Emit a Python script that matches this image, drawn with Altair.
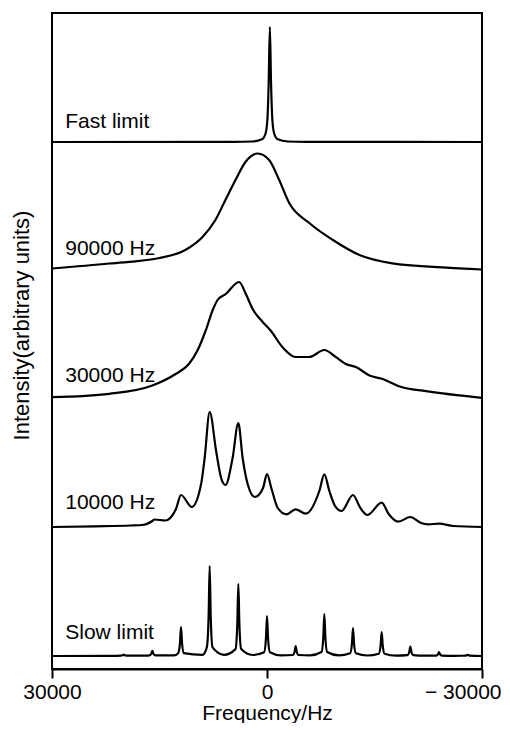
import altair as alt
import pandas as pd

# ---- data (frequency in Hz, intensity in arbitrary units) ----
TRACES = ["Fast limit", "90000 Hz", "30000 Hz", "10000 Hz", "Slow limit"]
OFFSETS = [527, 399, 271, 142, 13]          # baseline of each stacked spectrum
LABEL_Y = [541, 414, 287, 160, 30]
LABEL_X = [28150, 28150, 28150, 28150, 28150]

FAST_FREQ = [30000, 4600, 2100, 700, 200, -50, -230, -400, -570, -750, -1000, -1500, -2900, -5400, -30000]
FAST_INT = [0, 0.13, 0.5, 2.7, 8.5, 22, 57.5, 115, 57.5, 22, 8.5, 2.7, 0.5, 0.13, 0]

F90_FREQ = [30000, 22000, 15000, 11400, 9000, 7200, 5800, 4400, 3000, 1300, -300, -1700,
            -3100, -5900, -9200, -12900, -17500, -24500, -30000]
F90_INT = [1.5, 6.5, 12, 20, 33, 50, 70, 90, 108, 116.5, 110, 90,
           67, 47, 30, 15, 6.7, 2.7, 0.5]

F30_FREQ = [30000, 22000, 16000, 12750, 10900, 9700, 8550, 7600, 6900, 5750, 3900, 2950,
            2000, 600, -500, -2150, -4000, -5900, -8000, -9600, -11000, -12400, -14300,
            -16150, -18500, -22200, -30000]
F30_INT = [0.8, 4.2, 12.5, 24, 34, 47.5, 67.5, 87.5, 98, 104, 116, 104,
           89, 76, 67.5, 51, 41, 41, 48, 41, 34, 31, 22.5,
           19, 11.5, 6.8, 0.2]

F10_FREQ = [30000, 24000, 19000, 17400, 16000, 15700, 14200, 12700, 12000, 10500, 9200, 8700,
            8000, 7100, 6400, 5800, 4800, 4000, 3400, 2700, 1700, 550, 0, -600, -1500,
            -2700, -4000, -5400, -7300, -8000, -8700, -9500, -10400, -12000, -13000, -14000,
            -16000, -17000, -18300, -20000, -21500, -22500, -24000, -26000, -30000]
F10_INT = [0, 0.7, 1.5, 2, 6, 7.5, 6.5, 18, 32, 20, 42.7, 69,
           115, 76, 49, 42, 69, 104, 69, 43, 30, 39, 53, 39, 19,
           12.7, 17.7, 13.3, 36, 52.7, 36, 21, 16, 32, 19.3, 12,
           24.3, 12.7, 5.3, 10, 4, 2.7, 3.3, 1, 0]

SLOW_FREQ = [30000, 21000, 20400, 20150, 20000, 19850, 19600,
             17000, 16400, 16150, 16000, 15850, 15600,
             13000, 12400, 12150, 12000, 11850, 11600,
             9000, 8400, 8150, 8000, 7850, 7600,
             6000, 4400, 4150, 4000, 3850, 3600,
             2000, 400, 150, 0, -150, -400,
             -2000, -3600, -3850, -4000, -4150, -4400,
             -6000, -7600, -7850, -8000, -8150, -8400,
             -10000, -11600, -11850, -12000, -12150, -12400,
             -14000, -15600, -15850, -16000, -16150, -16400,
             -18000, -19600, -19850, -20000, -20150, -20400,
             -22000, -23600, -23850, -24000, -24150, -24400,
             -26000, -27700, -28000, -28300, -30000]
SLOW_INT = [0, 0.2, 0.3, 0.7, 1.5, 0.7, 0.3,
            0.3, 0.6, 2.2, 5.2, 2.2, 0.6,
            0.6, 2.8, 12.4, 29, 12.4, 2.8,
            1.2, 8.6, 38.6, 90, 38.6, 8.6,
            1.2, 6.9, 30.9, 72, 30.9, 6.9,
            1.0, 3.8, 17.2, 40, 17.2, 3.8,
            0.6, 1.0, 4.3, 10, 4.3, 1.0,
            0.6, 4.0, 18, 42, 18, 4.0,
            0.6, 2.7, 12, 28, 12, 2.7,
            0.5, 2.3, 10.3, 24, 10.3, 2.3,
            0.4, 0.9, 4.0, 9.4, 4.0, 0.9,
            0.3, 0.4, 1.7, 3.9, 1.7, 0.4,
            0.2, 0.3, 1.2, 0.3, 0]

X_TICKS = [30000, 0, -30000]

# ---- build table ----
series = [(FAST_FREQ, FAST_INT), (F90_FREQ, F90_INT), (F30_FREQ, F30_INT),
          (F10_FREQ, F10_INT), (SLOW_FREQ, SLOW_INT)]
rows = []
for name, off, (fr, it) in zip(TRACES, OFFSETS, series):
    for f, v in zip(fr, it):
        rows.append({"trace": name, "freq": f, "y": off + v})
df = pd.DataFrame(rows)
labels = pd.DataFrame({"trace": TRACES, "freq": LABEL_X, "y": LABEL_Y})

FONT = "Liberation Sans"

x_scale = alt.Scale(domain=[-30000, 30000], reverse=True, nice=False)
y_scale = alt.Scale(domain=[0, 656], nice=False)

x_axis = alt.Axis(
    values=X_TICKS,
    labelExpr="datum.value < 0 ? '\u2212 30000' : datum.value == 0 ? '0' : '30000'",
    labelAlign=alt.expr("datum.value < 0 ? 'right' : 'center'"),
    labelOffset=alt.expr("datum.value < 0 ? 19 : 0"),
    labelFontSize=21, labelFont=FONT, labelColor="black", labelPadding=3,
    tickSize=9, tickWidth=2, tickColor="black",
    domainColor="black", domainWidth=2, grid=False,
    title="Frequency/Hz", titleFontSize=21, titleFont=FONT,
    titleFontWeight="normal", titleColor="black", titlePadding=0,
)
y_axis = alt.Axis(
    labels=False, ticks=False, domain=False, grid=False,
    title="Intensity(arbitrary units)", titleFontSize=22, titleFont=FONT,
    titleFontWeight="normal", titleColor="black", titlePadding=19,
    titleY=312,
)

lines = alt.Chart(df).mark_line(
    color="black", strokeWidth=2.2, interpolate="monotone"
).encode(
    x=alt.X("freq:Q", scale=x_scale, axis=x_axis),
    y=alt.Y("y:Q", scale=y_scale, axis=y_axis),
    detail="trace:N",
)

texts = alt.Chart(labels).mark_text(
    align="left", baseline="alphabetic", fontSize=21, font=FONT, color="black"
).encode(
    x=alt.X("freq:Q", scale=x_scale),
    y=alt.Y("y:Q", scale=y_scale),
    text="trace:N",
)

chart = alt.layer(lines, texts).properties(
    width=430, height=656,
    padding={"left": 2, "top": 5, "right": 0, "bottom": 0},
    background="white",
).configure_view(
    stroke="black", strokeWidth=2
)

chart.save("out.html", embed_options={"renderer": "svg", "actions": False})
